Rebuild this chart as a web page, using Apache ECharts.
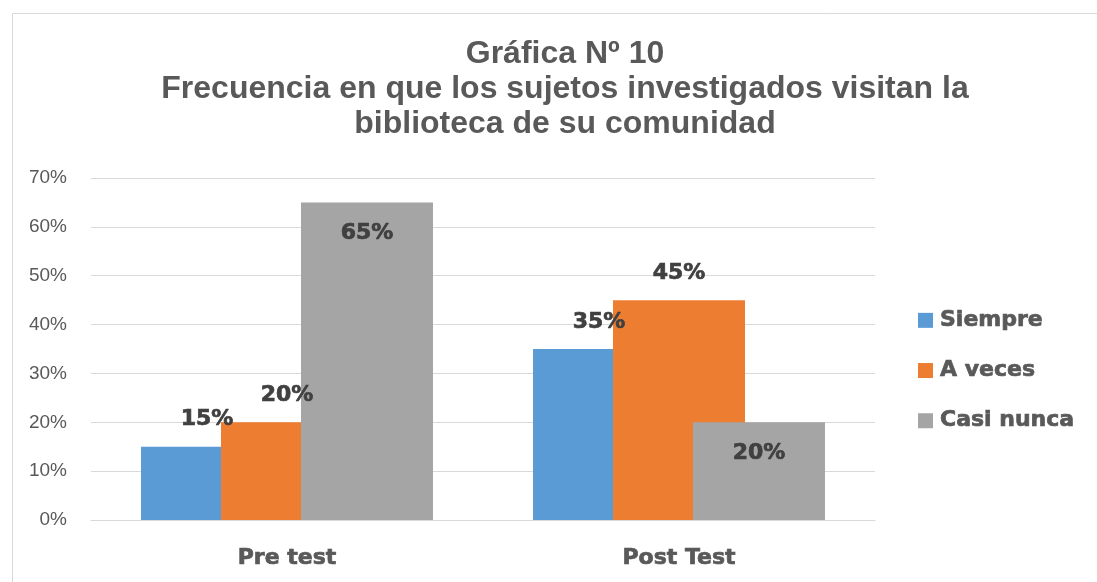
<!DOCTYPE html>
<html>
<head>
<meta charset="utf-8">
<script src="https://cdn.jsdelivr.net/npm/echarts@6/dist/echarts.min.js"></script>
<style>
html,body{margin:0;padding:0;background:#fff;}
#container{width:1097px;height:582px;}
</style>
</head>
<body>
<div id="container"></div>
<script type="text/javascript">
var categories = ['Pre test', 'Post Test'];
var siempre = [15, 35];
var aVeces = [20, 45];
var casiNunca = [65, 20];
var yTicks = [0, 10, 20, 30, 40, 50, 60, 70];

var labelFont = 'DejaVu Sans';
var myChart = echarts.init(document.getElementById('container'));

// etiqueta de valor comun para las tres series
function valueLabel(pos, dist) {
	return {
		show: true,
		position: pos,
		distance: dist,
		formatter: '{c}%',
		fontFamily: labelFont,
		fontWeight: 'bold',
		fontSize: 22,
		color: '#404040',
		textBorderColor: '#404040',
		textBorderWidth: 0.7
	};
}

var option = {
	backgroundColor: '#fff',
	animation: false,
	title: {
		text: 'Gráfica Nº 10\nFrecuencia en que los sujetos investigados visitan la\nbiblioteca de su comunidad',
		left: 560,
		top: 32,
		textAlign: 'center',
		textStyle: {
			fontFamily: 'Liberation Sans',
			fontWeight: 'bold',
			fontSize: 32,
			lineHeight: 35,
			color: '#595959'
		}
	},
	graphic: [{
		type: 'rect',
		silent: true,
		shape: {x: 12.5, y: 13.5, width: 1200, height: 700},
		style: {fill: 'none', stroke: '#d9d9d9', lineWidth: 1}
	}],
	legend: {
		orient: 'vertical',
		left: 918,
		top: 309,
		padding: 0,
		itemWidth: 15,
		itemHeight: 15,
		itemGap: 27.5,
		icon: 'rect',
		data: ['Siempre', 'A veces', 'Casi nunca'],
		textStyle: {
			fontFamily: labelFont,
			fontWeight: 'bold',
			fontSize: 22,
			color: '#595959',
			textBorderColor: '#595959',
			textBorderWidth: 0.7,
			padding: [0, 0, 0, 2]
		}
	},
	grid: {
		left: 91,
		right: 222,
		top: 178,
		bottom: 62
	},
	xAxis: {
		type: 'category',
		data: categories,
		axisTick: {show: false},
		axisLine: {lineStyle: {color: '#d9d9d9', width: 1}},
		axisLabel: {
			margin: 27,
			fontFamily: labelFont,
			fontWeight: 'bold',
			fontSize: 22,
			color: '#595959',
			textBorderColor: '#595959',
			textBorderWidth: 0.7
		}
	},
	yAxis: {
		type: 'value',
		min: yTicks[0],
		max: yTicks[yTicks.length - 1],
		interval: 10,
		axisLine: {show: false},
		axisTick: {show: false},
		splitLine: {lineStyle: {color: '#d9d9d9', width: 1}},
		axisLabel: {
			margin: 24,
			fontFamily: 'Liberation Sans',
			fontSize: 19,
			color: '#595959',
			formatter: '{value}%'
		}
	},
	series: [
		{
			name: 'Siempre',
			type: 'bar',
			data: siempre,
			barWidth: 132,
			barGap: '-39.4%',
			itemStyle: {color: '#5b9bd5'},
			label: valueLabel('top', 16)
		},
		{
			name: 'A veces',
			type: 'bar',
			data: aVeces,
			barWidth: 132,
			barGap: '-39.4%',
			itemStyle: {color: '#ed7d31'},
			label: valueLabel('top', 16)
		},
		{
			name: 'Casi nunca',
			type: 'bar',
			data: casiNunca,
			barWidth: 132,
			barGap: '-39.4%',
			itemStyle: {color: '#a5a5a5'},
			label: valueLabel('insideTop', 20)
		}
	]
};
myChart.setOption(option);
</script>
</body>
</html>
